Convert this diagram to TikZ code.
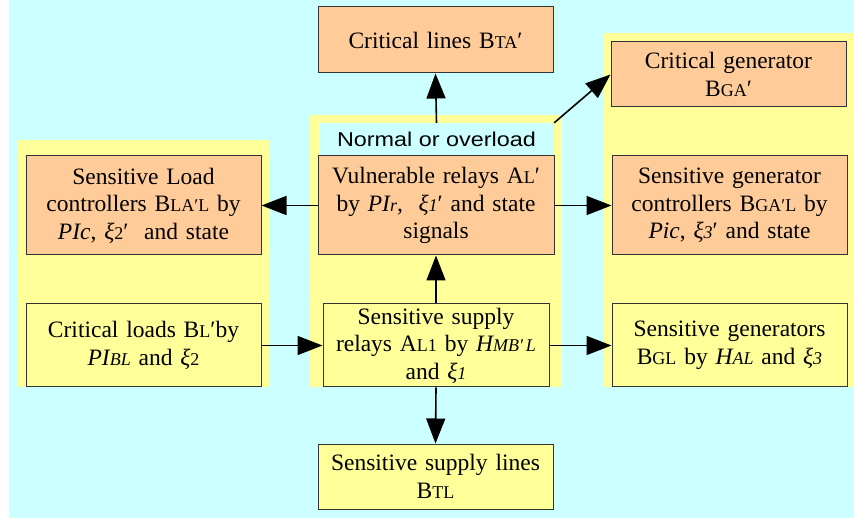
\documentclass[tikz,border=0pt]{standalone}
\usepackage{fontspec}
\setmainfont{Liberation Serif}
\newfontfamily\bodyfont{Liberation Serif}
\newfontfamily\labelfont[FakeStretch=1.17]{Liberation Sans}
\usetikzlibrary{arrows.meta}

% small capitals used for the block indices
\newcommand{\sm}[1]{{\fontsize{18}{18}\selectfont #1}}

\definecolor{bgcyan}{HTML}{CCFFFF}
\definecolor{paneyellow}{HTML}{FFFF99}
\definecolor{boxorange}{HTML}{FFCC99}

\begin{document}
\begin{tikzpicture}[x=1pt,y=-1pt,
    block/.style={draw=black!80,line width=1pt,align=center,text width=230pt,
        minimum width=235pt,inner sep=2pt,
        font=\bodyfont\fontsize{23.5}{27.5}\selectfont},
    hot/.style={block,fill=boxorange},
    cold/.style={block,fill=paneyellow},
    flow/.style={line width=1.6pt,-{Triangle[length=25pt,width=19pt]}}]
    \useasboundingbox (0,0) rectangle (854,518);
    \fill[bgcyan] (9,0) rectangle (854,518);

    % yellow panels behind the three columns
    \fill[paneyellow] (17,140) rectangle (269,387);
    \fill[paneyellow] (310,115) rectangle (562,387);
    \fill[paneyellow] (603,33) rectangle (854,387);

    \node[fill=bgcyan,minimum width=235pt,minimum height=33pt,inner sep=0pt,
        font=\labelfont\fontsize{20}{20}\selectfont] (state) at (436.5,139.5)
        {Normal or overload};

    \node[hot,minimum height=66pt] (lines) at (435.5,40)
        {Critical lines B\sm{TA}′};
    \node[hot,minimum height=65pt] (gen) at (728.5,74.5)
        {Critical generator\\ B\sm{GA}′};

    \node[hot,minimum width=236pt,minimum height=99pt] (vuln) at (436,205.5)
        {Vulnerable relays A\sm{L}′\\ by \textit{PI\sm{r}},\ \ \textit{ξ\sm{1}}′ and state\\ signals};
    \node[hot,minimum height=99pt] (loadctl) at (143.5,205.5)
        {Sensitive Load\\ controllers B\sm{LA′L} by\\ \textit{PIc}, \textit{ξ}\sm{2}′\ \ and state};
    \node[hot,minimum height=99pt] (genctl) at (729.5,205.5)
        {Sensitive generator\\ controllers B\sm{GA′L} by\\ \textit{Pic}, \textit{ξ\sm{3}}′ and state};

    \node[cold,minimum height=83pt] (loads) at (143.5,345.5)
        {Critical loads B\sm{L}′by\\ \textit{PI\sm{BL}} and \textit{ξ}\sm{2}};
    \node[cold,minimum width=226pt,text width=222pt,minimum height=83pt] (relays) at (436,345.5)
        {Sensitive supply\\ relays A\sm{L1} by \textit{H\sm{MB′\,L}}\\ and \textit{ξ\sm{1}}};
    \node[cold,minimum height=83pt] (gens) at (729.5,345.5)
        {Sensitive generators\\ B\sm{GL} by \textit{H\sm{AL}} and \textit{ξ\sm{3}}};

    \node[cold,minimum height=65pt] (tlines) at (435.5,476.5)
        {Sensitive supply lines\\ B\sm{TL}};

    \draw[flow] (state.north) -- (lines.south);
    \draw[flow] (state.north east) -- (gen.west);
    \draw[flow] (vuln.west) -- (loadctl.east);
    \draw[flow] (vuln.east) -- (genctl.west);
    \draw[flow] (relays.north) -- (vuln.south);
    \draw[flow] (loads.east) -- (relays.west);
    \draw[flow] (relays.east) -- (gens.west);
    \draw[flow] (relays.south) -- (tlines.north);
\end{tikzpicture}
\end{document}
